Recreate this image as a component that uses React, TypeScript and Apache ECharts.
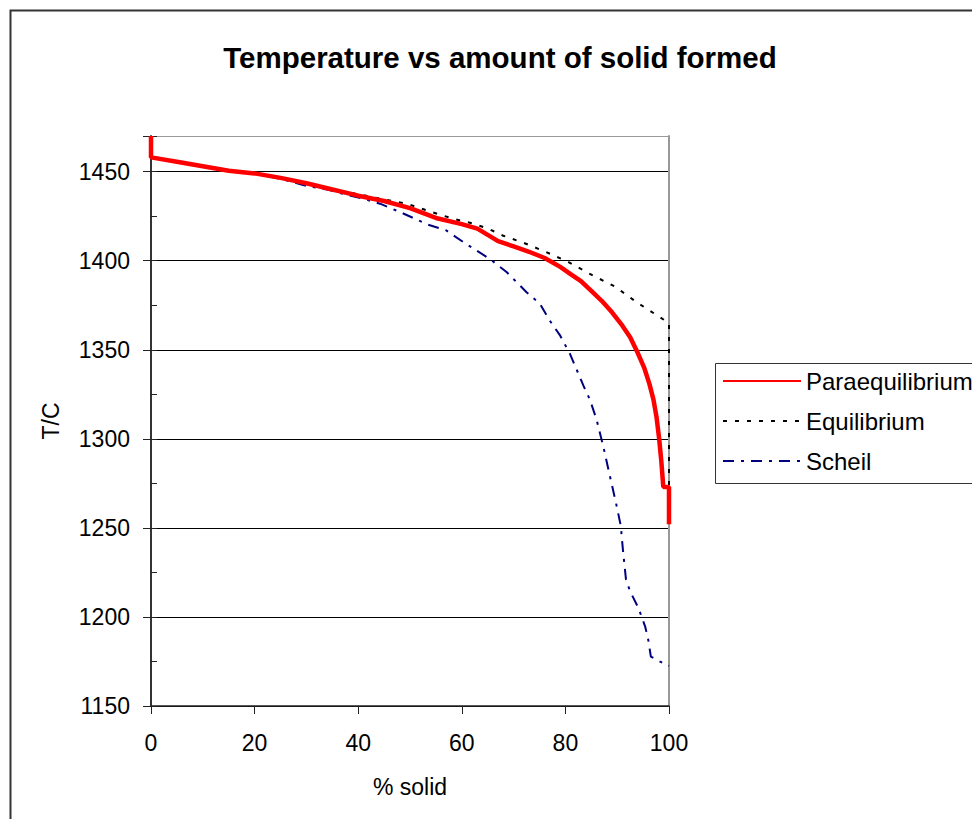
import React, { useEffect, useRef } from "react";
import * as echarts from "echarts";

// Temperature (°C) against percentage of solid formed for three solidification models
const paraequilibrium: [number, number][] = [
  [0, 1470], [0, 1458], [5, 1455.5], [10, 1453], [15, 1450.5], [20, 1449],
  [25, 1446.5], [30, 1443.5], [35, 1440], [40, 1436.5], [45, 1433.5],
  [50, 1429.5], [55, 1424], [60, 1420.5], [63, 1418], [67, 1411], [70, 1408],
  [73, 1405], [76, 1401.5], [79, 1396.5], [81, 1392.5], [83, 1388.5],
  [85, 1383], [87, 1377.5], [89, 1371], [91, 1363.5], [92.5, 1357],
  [94, 1348], [95.2, 1340], [96.2, 1331], [97, 1322], [97.6, 1312],
  [98.1, 1300], [98.5, 1288], [98.9, 1273], [100, 1273], [100, 1252],
];

const equilibrium: [number, number][] = [
  [0, 1458], [5, 1455.5], [10, 1453], [15, 1450.5], [20, 1449], [25, 1446.5],
  [30, 1443], [38.4, 1438.2], [44, 1435], [49.4, 1432], [54, 1427.5],
  [58.4, 1423.5], [62, 1421], [65.1, 1418], [68, 1414], [71.6, 1410.4],
  [76.1, 1405.1], [80.6, 1399.2], [85.1, 1392], [89.6, 1385.4],
  [93.8, 1376.6], [98.3, 1368.2], [100, 1365], [100, 1270],
];

const scheil: [number, number][] = [
  [0, 1470], [0, 1458], [5, 1455.5], [10, 1453], [15, 1450.5], [20, 1449],
  [25, 1446], [30, 1442], [34, 1440], [37.8, 1437], [41, 1434.8],
  [44.2, 1432], [48.1, 1427.3], [53.5, 1420.2], [57, 1417], [60.3, 1410.4],
  [65.4, 1401], [68.7, 1393.5], [72.5, 1382.3], [75.1, 1375.7], [77, 1366.3],
  [79, 1357.9], [80.9, 1347.6], [83.5, 1329.7], [84.7, 1322.2], [86, 1311],
  [87.3, 1295.9], [88.6, 1279], [89.9, 1262.2], [90.7, 1251], [91.1, 1237.8],
  [91.7, 1220.9], [92.5, 1214.3], [94.1, 1205], [95.4, 1194.6], [96, 1187.1],
  [96.5, 1177.7], [98.3, 1174.9], [100, 1172.5],
];

const seriesNames = ["Paraequilibrium", "Equilibrium", "Scheil"];
const chartTitle = "Temperature vs amount of solid formed";
const tempMin = 1150;
const tempMax = 1470;
const tempStep = 50;
const solidMin = 0;
const solidMax = 100;
const solidStep = 20;

const FONT = "'Liberation Sans', Arial, sans-serif";

export default function App() {
  const ref = useRef<HTMLDivElement>(null);

  useEffect(() => {
    if (!ref.current) return;
    const chart = echarts.init(ref.current, undefined, { renderer: "svg" });

    // black gridlines at each major tick, grey at the top edge of the plot area
    const gridColors: string[] = [];
    for (let v = tempMin; v <= tempMax; v += tempStep) gridColors.push("#000");
    gridColors.push("#999");

    chart.setOption({
      animation: false,
      backgroundColor: "#fff",
      textStyle: { fontFamily: FONT },
      grid: { left: 151, top: 136, width: 518, height: 570, containLabel: false },
      legend: {
        orient: "vertical",
        left: 713,
        top: 361,
        padding: [8, 10, 8, 9],
        itemWidth: 78,
        itemHeight: 14,
        itemGap: 16,
        data: seriesNames,
        itemStyle: { opacity: 0, borderWidth: 0 },
        textStyle: { fontFamily: FONT, fontSize: 24, color: "#000" },
      },
      xAxis: {
        type: "value",
        min: solidMin,
        max: solidMax,
        interval: solidStep,
        name: "% solid",
        nameLocation: "middle",
        nameGap: 69,
        nameTextStyle: { fontFamily: FONT, fontSize: 23, color: "#000" },
        axisLine: { show: true, lineStyle: { color: "#222", width: 1.5 } },
        axisTick: { show: true, inside: false, length: 8, lineStyle: { color: "#222" } },
        axisLabel: { margin: 25, fontFamily: FONT, fontSize: 23, color: "#000" },
        splitLine: { show: false },
      },
      yAxis: [
        {
          type: "value",
          min: tempMin,
          max: tempMax,
          interval: tempStep,
          name: "T/C",
          nameLocation: "middle",
          nameGap: 89,
          nameTextStyle: { fontFamily: FONT, fontSize: 23, color: "#000" },
          axisLine: { show: true, lineStyle: { color: "#333", width: 2 } },
          axisTick: { show: true, inside: false, length: 8, lineStyle: { color: "#222" } },
          axisLabel: {
            margin: 21,
            fontFamily: FONT,
            fontSize: 23,
            color: "#000",
            formatter: (v: number) => ((v - tempMin) % tempStep === 0 ? String(v) : ""),
          },
          splitLine: { show: true, lineStyle: { color: gridColors, width: 1 } },
        },
        {
          // minor ticks every 25 degrees, pointing into the plot
          type: "value",
          position: "left",
          min: tempMin,
          max: tempMax,
          interval: tempStep / 2,
          axisLine: { show: false },
          axisTick: { show: true, inside: true, length: 6, lineStyle: { color: "#222" } },
          axisLabel: { show: false },
          splitLine: { show: false },
        },
        {
          // grey right-hand border of the plot area
          type: "value",
          position: "right",
          min: tempMin,
          max: tempMax,
          axisLine: { show: true, lineStyle: { color: "#999", width: 2 } },
          axisTick: { show: false },
          axisLabel: { show: false },
          splitLine: { show: false },
        },
      ],
      series: [
        {
          name: seriesNames[0],
          type: "line",
          data: paraequilibrium,
          symbol: "none",
          z: 3,
          lineStyle: { color: "#ff0000", width: 4.5 },
          itemStyle: { color: "#ff0000" },
        },
        {
          name: seriesNames[1],
          type: "line",
          data: equilibrium,
          symbol: "none",
          z: 2,
          lineStyle: { color: "#000", width: 2, type: [4, 8] },
          itemStyle: { color: "#000" },
        },
        {
          name: seriesNames[2],
          type: "line",
          data: scheil,
          symbol: "none",
          z: 2,
          lineStyle: { color: "#000080", width: 2, type: [11, 7, 3, 7] },
          itemStyle: { color: "#000080" },
        },
      ],
      graphic: [
        {
          // outer chart frame
          type: "rect",
          left: 8,
          top: 8,
          shape: { x: 0, y: 0, width: 1000, height: 900 },
          style: { fill: "none", stroke: "#333", lineWidth: 2 },
          silent: true,
          z: -1,
        },
        {
          // legend frame, running past the right edge
          type: "rect",
          left: 713,
          top: 361,
          shape: { x: 0, y: 0, width: 300, height: 120 },
          style: { fill: "none", stroke: "#333", lineWidth: 1 },
          silent: true,
          z: 1,
        },
        {
          type: "text",
          x: 500,
          y: 57,
          style: {
            text: chartTitle,
            textAlign: "center",
            textVerticalAlign: "middle",
            fontFamily: FONT,
            fontSize: 29.5,
            fontWeight: "bold",
            fill: "#000",
          },
          silent: true,
        },
      ],
    });

    return () => chart.dispose();
  }, []);

  return <div ref={ref} style={{ width: 980, height: 827, margin: -8 }} />;
}
